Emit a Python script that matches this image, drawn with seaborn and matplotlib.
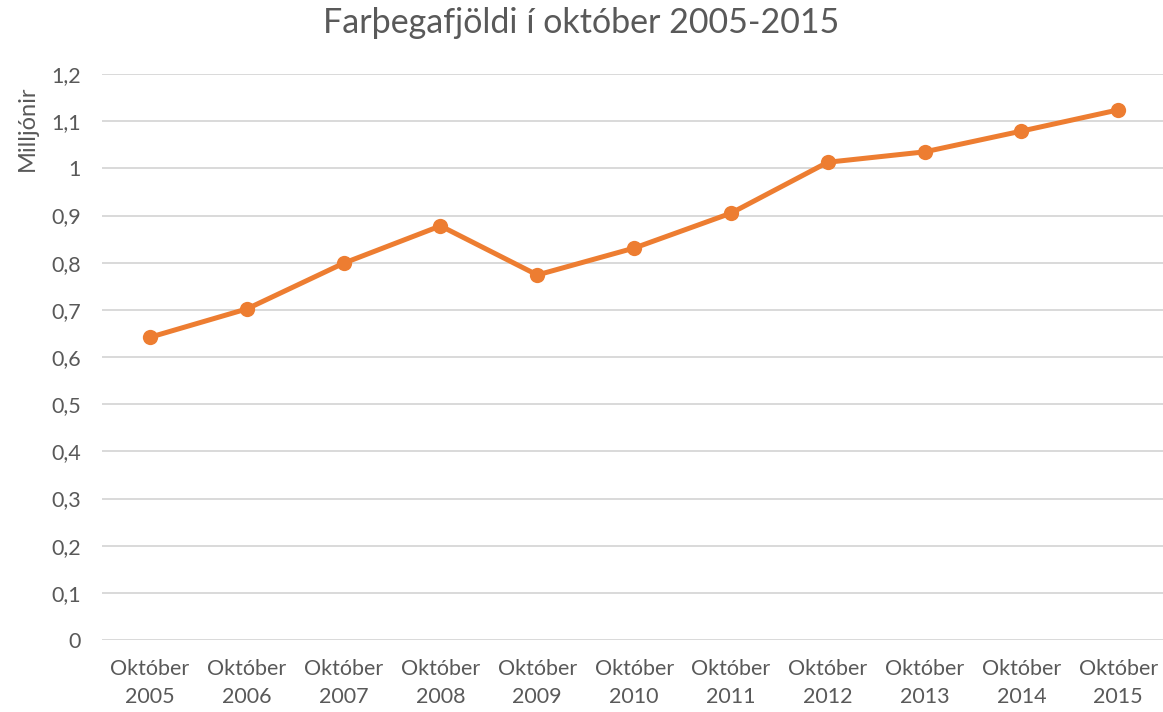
import matplotlib
matplotlib.use('Agg')
import matplotlib.pyplot as plt
import seaborn as sns
import pandas as pd

# --- Data ---
YEARS = ['2005', '2006', '2007', '2008', '2009', '2010', '2011', '2012', '2013', '2014', '2015']
PASSENGERS = [0.642, 0.702, 0.799, 0.878, 0.774, 0.831, 0.905, 1.013, 1.035, 1.079, 1.124]
Y_TICKS = [0, 0.1, 0.2, 0.3, 0.4, 0.5, 0.6, 0.7, 0.8, 0.9, 1.0, 1.1, 1.2]
Y_TICK_LABELS = ['0', '0,1', '0,2', '0,3', '0,4', '0,5', '0,6', '0,7', '0,8', '0,9', '1', '1,1', '1,2']

TITLE = 'Farþegafjöldi í október 2005-2015'
Y_LABEL = 'Milljónir'

LINE_COLOR = '#ED7D31'
TEXT_COLOR = '#595959'
GRID_COLOR = '#D9D9D9'

df = pd.DataFrame({
    'month': ['Október\n' + y for y in YEARS],
    'value': PASSENGERS,
})

sns.set_style('white')
plt.rcParams['font.family'] = ['Lato', 'DejaVu Sans']

fig = plt.figure(figsize=(11.63, 7.12), dpi=100)
ax = fig.add_axes([0.0874, 0.1011, 0.9157, 0.7949])

sns.lineplot(data=df, x='month', y='value', ax=ax, color=LINE_COLOR,
             linewidth=3.6, marker='o', markersize=11, markeredgewidth=0, sort=False)

ax.set_xlim(-0.5, len(YEARS) - 0.5)
ax.set_ylim(0, 1.2)
ax.set_yticks(Y_TICKS)
ax.set_yticklabels(Y_TICK_LABELS)
ax.grid(axis='y', color=GRID_COLOR, linewidth=1.4)
ax.set_axisbelow(True)
for s in ax.spines.values():
    s.set_visible(False)
ax.tick_params(axis='both', length=0, labelsize=15.5, colors=TEXT_COLOR)
ax.tick_params(axis='y', pad=15)
ax.tick_params(axis='x', pad=14)
for lbl in ax.get_xticklabels():
    lbl.set_linespacing(1.45)
ax.set_xlabel('')
ax.set_ylabel('')

fig.text(0.5, 0.968, TITLE, ha='center', va='center', fontsize=24.5, color=TEXT_COLOR)
fig.text(27 / 1163, (712 - 128) / 712, Y_LABEL, rotation=90, ha='center', va='center',
         fontsize=17, color=TEXT_COLOR)

fig.savefig('out.png', dpi=100)
